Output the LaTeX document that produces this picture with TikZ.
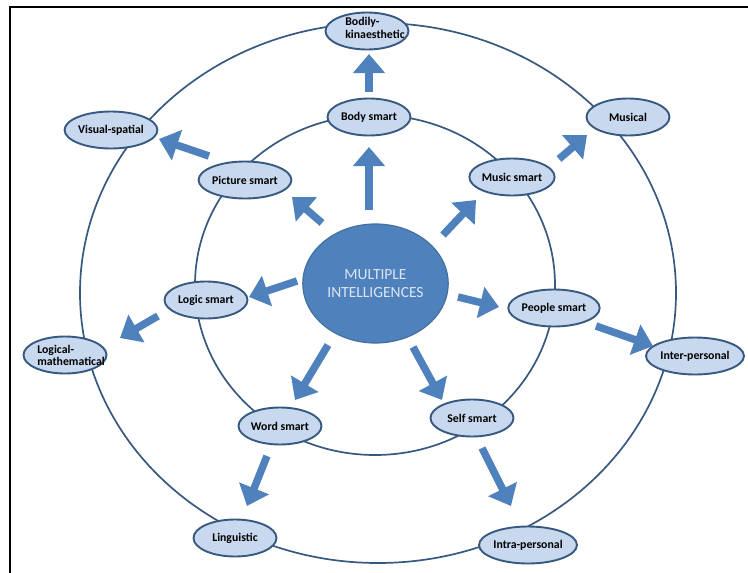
\documentclass[tikz,border=0pt]{standalone}
\usepackage{fontspec}
\setmainfont{Carlito}
\usetikzlibrary{arrows.meta,shapes.geometric}
\definecolor{arrowblue}{HTML}{4F81BD}
\definecolor{centerdraw}{HTML}{41719C}
\definecolor{centertext}{HTML}{DCE6F2}
\definecolor{nodefill}{HTML}{C8D8EE}
\definecolor{nodedraw}{HTML}{37597F}
\definecolor{ringcol}{HTML}{37597F}
\begin{document}
\begin{tikzpicture}[x=1pt,y=-1pt,
  ring/.style={draw=ringcol, line width=1.7pt},
  smallnode/.style={ellipse, draw=nodedraw, fill=nodefill, line width=1.9pt,
    minimum width=83pt, minimum height=37pt, inner sep=0pt,
    font=\bfseries\fontsize{11.8}{12.5}\selectfont},
  twoline/.style={inner sep=0pt, align=left, font=\bfseries\fontsize{11.8}{12.5}\selectfont},
  blockarrow/.style={draw=arrowblue, line width=7.5pt, -{Triangle[width=31pt,length=19pt]}},
  ]
\useasboundingbox (0,0) rectangle (748,573);
% frame
\draw[line width=2pt] (9.5,573) -- (9.5,6.5) -- (748,6.5);
% rings
\draw[ring] (378,293) ellipse [x radius=298pt, y radius=270pt];
\draw[ring] (375,285) ellipse [x radius=180pt, y radius=170pt];
% centre
\node[ellipse, fill=arrowblue, draw=centerdraw, line width=1.2pt,
  minimum width=133pt, minimum height=119pt, text=centertext,
  font=\fontsize{15.5}{18}\selectfont, align=center] (mi) at (375.5,283.5) {MULTIPLE\\INTELLIGENCES};
% inner nodes
\node[smallnode] (body) at (369,117) {Body smart};
\node[smallnode] (picture) at (245,180) {Picture smart};
\node[smallnode] (music) at (512,177) {Music smart};
\node[smallnode] (logic) at (206,300) {Logic smart};
\node[smallnode] (people) at (554,308) {People smart};
\node[smallnode] (word) at (280,426) {Word smart};
\node[smallnode] (self) at (472,418) {Self smart};
% outer nodes
\node[smallnode] (bodily) at (367,31) {};
\node[twoline] (bodilytxt) at (375,28) {Bodily-\\kinaesthetic};
\node[smallnode] (visual) at (111,130) {Visual-spatial};
\node[smallnode] (musical) at (628,117) {Musical};
\node[smallnode] (logmath) at (65,355) {};
\node[twoline] (logmathtxt) at (71,355.5) {Logical-\\mathematical};
\node[smallnode] (inter) at (695,356) {Inter-personal};
\node[smallnode] (ling) at (235,538) {Linguistic};
\node[smallnode] (intra) at (528,545) {Intra-personal};
% arrow end points
\coordinate (t1) at (369,210);  \coordinate (h1) at (369,147);
\coordinate (t2) at (369,92);   \coordinate (h2) at (369,54);
\coordinate (t3) at (322,223);  \coordinate (h3) at (292,197);
\coordinate (t4) at (209,156);  \coordinate (h4) at (159,139);
\coordinate (t5) at (443,235);  \coordinate (h5) at (476,200);
\coordinate (t6) at (559,159);  \coordinate (h6) at (587,135);
\coordinate (t7) at (297,281);  \coordinate (h7) at (249,297);
\coordinate (t8) at (158,316);  \coordinate (h8) at (120,338);
\coordinate (t9) at (458,297);  \coordinate (h9) at (499,307);
\coordinate (t10) at (596,326); \coordinate (h10) at (653,346);
\coordinate (t11) at (328,345); \coordinate (h11) at (295,400);
\coordinate (t12) at (267,456); \coordinate (h12) at (247,506);
\coordinate (t13) at (413,347); \coordinate (h13) at (442,400);
\coordinate (t14) at (482,448); \coordinate (h14) at (511,506);
\foreach \i in {1,...,14} {\draw[blockarrow] (t\i) -- (h\i);}
\end{tikzpicture}
\end{document}
